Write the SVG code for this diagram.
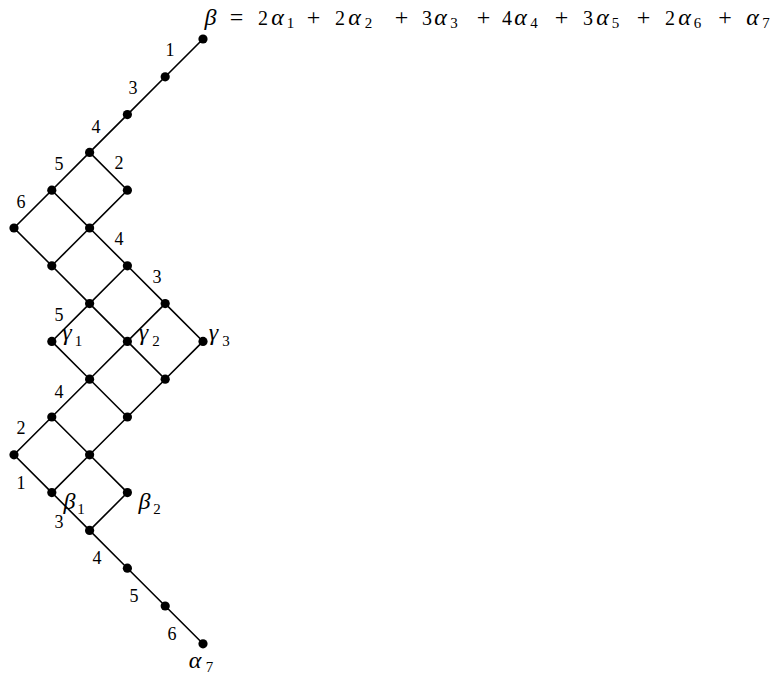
<svg xmlns="http://www.w3.org/2000/svg" width="780" height="681" viewBox="0 0 780 681">
<style>
.e{stroke:#000;stroke-width:1.6;fill:none}
.d{fill:#000}
text{font-family:'Liberation Serif','DejaVu Serif',serif;fill:#000;text-anchor:middle}
.i{font-style:italic;font-size:24px}
.s{font-size:15px}
.o{font-size:24px}
</style>
<rect width="780" height="681" fill="#fff"/>
<g id="connectors">
<path class="e" d="M203,39L165.2,76.8L127.4,114.6L89.6,152.4L51.8,190.2L14,228L51.8,265.8L89.6,303.6L127.4,341.4L165.2,379.2L127.4,417L89.6,454.8L51.8,492.6L89.6,530.4L127.4,568.2L165.2,606L203,643.8"/>
<path class="e" d="M89.6,152.4L127.4,190.2L89.6,228L51.8,190.2"/>
<path class="e" d="M89.6,228L127.4,265.8L165.2,303.6L203,341.4L165.2,379.2"/>
<path class="e" d="M89.6,228L51.8,265.8"/>
<path class="e" d="M127.4,265.8L89.6,303.6L51.8,341.4L89.6,379.2L127.4,341.4L165.2,303.6"/>
<path class="e" d="M89.6,379.2L51.8,417L14,454.8L51.8,492.6"/>
<path class="e" d="M89.6,379.2L127.4,417"/>
<path class="e" d="M51.8,417L89.6,454.8L127.4,492.6L89.6,530.4"/>
</g>
<g id="n0"><circle class="d" cx="203" cy="39" r="4.6"/></g>
<g id="n1"><circle class="d" cx="165.2" cy="76.8" r="4.6"/></g>
<g id="n2"><circle class="d" cx="127.4" cy="114.6" r="4.6"/></g>
<g id="n3"><circle class="d" cx="89.6" cy="152.4" r="4.6"/></g>
<g id="n4"><circle class="d" cx="51.8" cy="190.2" r="4.6"/></g>
<g id="n5"><circle class="d" cx="127.4" cy="190.2" r="4.6"/></g>
<g id="n6"><circle class="d" cx="14" cy="228" r="4.6"/></g>
<g id="n7"><circle class="d" cx="89.6" cy="228" r="4.6"/></g>
<g id="n8"><circle class="d" cx="51.8" cy="265.8" r="4.6"/></g>
<g id="n9"><circle class="d" cx="127.4" cy="265.8" r="4.6"/></g>
<g id="n10"><circle class="d" cx="89.6" cy="303.6" r="4.6"/></g>
<g id="n11"><circle class="d" cx="165.2" cy="303.6" r="4.6"/></g>
<g id="n15"><circle class="d" cx="89.6" cy="379.2" r="4.6"/></g>
<g id="n16"><circle class="d" cx="165.2" cy="379.2" r="4.6"/></g>
<g id="n17"><circle class="d" cx="51.8" cy="417" r="4.6"/></g>
<g id="n18"><circle class="d" cx="127.4" cy="417" r="4.6"/></g>
<g id="n19"><circle class="d" cx="14" cy="454.8" r="4.6"/></g>
<g id="n20"><circle class="d" cx="89.6" cy="454.8" r="4.6"/></g>
<g id="n23"><circle class="d" cx="89.6" cy="530.4" r="4.6"/></g>
<g id="n24"><circle class="d" cx="127.4" cy="568.2" r="4.6"/></g>
<g id="n25"><circle class="d" cx="165.2" cy="606" r="4.6"/></g>
<g id="g1"><circle class="d" cx="51.8" cy="341.4" r="4.6"/><text font-size="20"><tspan class="i" x="67" y="340">γ</tspan><tspan class="s" x="78.5" y="346">1</tspan></text></g>
<g id="g2"><circle class="d" cx="127.4" cy="341.4" r="4.6"/><text font-size="20"><tspan class="i" x="143.5" y="340">γ</tspan><tspan class="s" x="156" y="346">2</tspan></text></g>
<g id="g3"><circle class="d" cx="203" cy="341.4" r="4.6"/><text font-size="20"><tspan class="i" x="213.5" y="340">γ</tspan><tspan class="s" x="226" y="346">3</tspan></text></g>
<g id="b1"><circle class="d" cx="51.8" cy="492.6" r="4.6"/><text font-size="20"><tspan class="i" x="69.5" y="509">β</tspan><tspan class="s" x="81" y="514">1</tspan></text></g>
<g id="b2"><circle class="d" cx="127.4" cy="492.6" r="4.6"/><text font-size="20"><tspan class="i" x="144.5" y="509">β</tspan><tspan class="s" x="157" y="514">2</tspan></text></g>
<g id="a7"><circle class="d" cx="203" cy="643.8" r="4.6"/><text font-size="20"><tspan class="i" x="195" y="668">α</tspan><tspan class="s" x="209.5" y="672">7</tspan></text></g>
<g id="labels" font-size="18">
<text x="170" y="56">1</text>
<text x="133" y="94">3</text>
<text x="96" y="133">4</text>
<text x="59" y="170">5</text>
<text x="119" y="169">2</text>
<text x="21" y="208">6</text>
<text x="119" y="245">4</text>
<text x="157" y="283">3</text>
<text x="59" y="321">5</text>
<text x="59" y="398">4</text>
<text x="21" y="434">2</text>
<text x="21" y="489">1</text>
<text x="59" y="528">3</text>
<text x="97" y="564">4</text>
<text x="134" y="602">5</text>
<text x="172" y="640">6</text>
</g>
<g id="formula">
<text font-size="20"><tspan class="i" x="210.5" y="25">β</tspan><tspan class="o" x="236.5" y="25">=</tspan><tspan x="263" y="25">2</tspan><tspan class="i" x="277.5" y="25">α</tspan><tspan class="s" x="290.5" y="28">1</tspan><tspan class="o" x="313.5" y="25">+</tspan><tspan x="340" y="25">2</tspan><tspan class="i" x="354.5" y="25">α</tspan><tspan class="s" x="368.5" y="28">2</tspan><tspan class="o" x="401.5" y="25">+</tspan><tspan x="427" y="25">3</tspan><tspan class="i" x="440.5" y="25">α</tspan><tspan class="s" x="454" y="28">3</tspan><tspan class="o" x="483.5" y="25">+</tspan><tspan x="507" y="25">4</tspan><tspan class="i" x="520.5" y="25">α</tspan><tspan class="s" x="534" y="28">4</tspan><tspan class="o" x="561.5" y="25">+</tspan><tspan x="588" y="25">3</tspan><tspan class="i" x="602.5" y="25">α</tspan><tspan class="s" x="615.5" y="28">5</tspan><tspan class="o" x="643.5" y="25">+</tspan><tspan x="670" y="25">2</tspan><tspan class="i" x="684.5" y="25">α</tspan><tspan class="s" x="697.5" y="28">6</tspan><tspan class="o" x="725" y="25">+</tspan><tspan class="i" x="752.5" y="25">α</tspan><tspan class="s" x="766" y="28">7</tspan></text>
</g>
</svg>
